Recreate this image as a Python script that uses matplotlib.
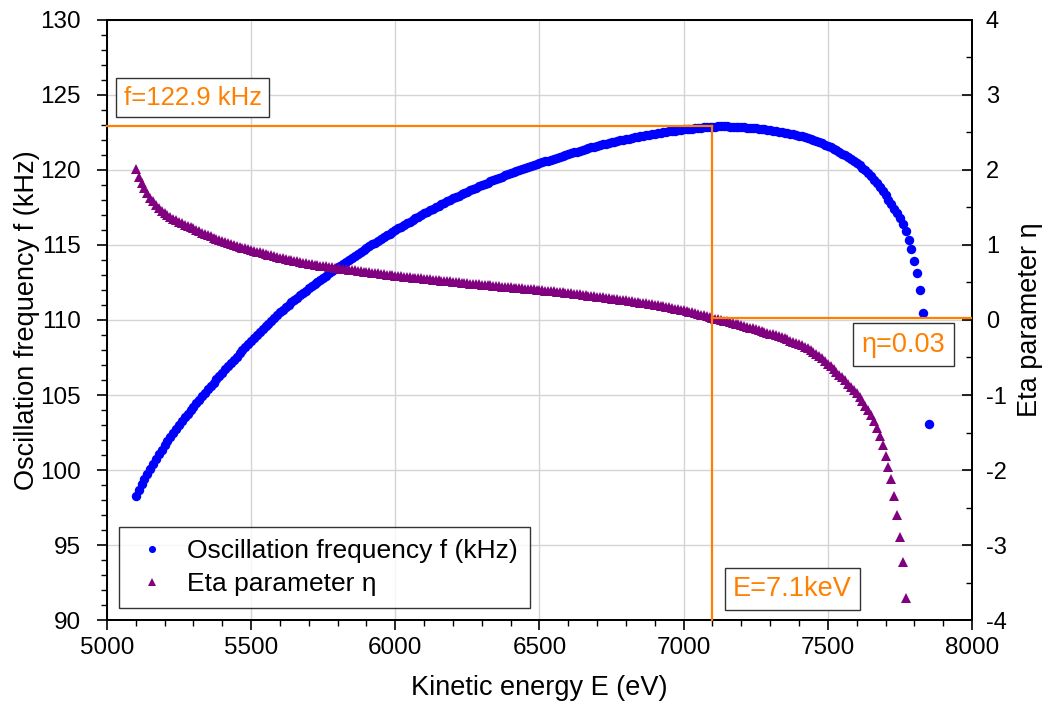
import matplotlib
matplotlib.use("Agg")
import matplotlib.pyplot as plt
from matplotlib.ticker import MultipleLocator

plt.rcParams['font.family'] = ['Liberation Sans', 'DejaVu Sans']
plt.rcParams['axes.unicode_minus'] = False

# ---------------- data ----------------
energy_ev = [
    5100, 5110, 5120, 5130, 5140, 5150, 5160, 5170, 5180, 5190,
    5200, 5210, 5220, 5230, 5240, 5250, 5260, 5270, 5280, 5290,
    5300, 5310, 5320, 5330, 5340, 5350, 5360, 5370, 5380, 5390,
    5400, 5410, 5420, 5430, 5440, 5450, 5460, 5470, 5480, 5490,
    5500, 5510, 5520, 5530, 5540, 5550, 5560, 5570, 5580, 5590,
    5600, 5610, 5620, 5630, 5640, 5650, 5660, 5670, 5680, 5690,
    5700, 5710, 5720, 5730, 5740, 5750, 5760, 5770, 5780, 5790,
    5800, 5810, 5820, 5830, 5840, 5850, 5860, 5870, 5880, 5890,
    5900, 5910, 5920, 5930, 5940, 5950, 5960, 5970, 5980, 5990,
    6000, 6010, 6020, 6030, 6040, 6050, 6060, 6070, 6080, 6090,
    6100, 6110, 6120, 6130, 6140, 6150, 6160, 6170, 6180, 6190,
    6200, 6210, 6220, 6230, 6240, 6250, 6260, 6270, 6280, 6290,
    6300, 6310, 6320, 6330, 6340, 6350, 6360, 6370, 6380, 6390,
    6400, 6410, 6420, 6430, 6440, 6450, 6460, 6470, 6480, 6490,
    6500, 6510, 6520, 6530, 6540, 6550, 6560, 6570, 6580, 6590,
    6600, 6610, 6620, 6630, 6640, 6650, 6660, 6670, 6680, 6690,
    6700, 6710, 6720, 6730, 6740, 6750, 6760, 6770, 6780, 6790,
    6800, 6810, 6820, 6830, 6840, 6850, 6860, 6870, 6880, 6890,
    6900, 6910, 6920, 6930, 6940, 6950, 6960, 6970, 6980, 6990,
    7000, 7010, 7020, 7030, 7040, 7050, 7060, 7070, 7080, 7090,
    7100, 7110, 7120, 7130, 7140, 7150, 7160, 7170, 7180, 7190,
    7200, 7210, 7220, 7230, 7240, 7250, 7260, 7270, 7280, 7290,
    7300, 7310, 7320, 7330, 7340, 7350, 7360, 7370, 7380, 7390,
    7400, 7410, 7420, 7430, 7440, 7450, 7460, 7470, 7480, 7490,
    7500, 7510, 7520, 7530, 7540, 7550, 7560, 7570, 7580, 7590,
    7600, 7610, 7620, 7630, 7640, 7650, 7660, 7670, 7680, 7690,
    7700, 7710, 7720, 7730, 7740, 7750, 7760, 7770, 7780, 7790,
    7800, 7810, 7820, 7830, 7850,
]

freq_khz = [
    98.3, 98.68, 99.05, 99.41, 99.76, 100.1, 100.43, 100.75, 101.06, 101.36,
    101.65, 101.93, 102.21, 102.48, 102.75, 103.01, 103.26, 103.51, 103.75, 103.98,
    104.21, 104.45, 104.69, 104.92, 105.15, 105.38, 105.61, 105.83, 106.05, 106.27,
    106.49, 106.71, 106.93, 107.14, 107.35, 107.56, 107.77, 107.98, 108.19, 108.39,
    108.59, 108.79, 108.99, 109.19, 109.38, 109.57, 109.76, 109.95, 110.14, 110.32,
    110.5, 110.67, 110.84, 111.01, 111.17, 111.33, 111.49, 111.65, 111.8, 111.95,
    112.1, 112.25, 112.4, 112.54, 112.68, 112.82, 112.96, 113.1, 113.24, 113.37,
    113.5, 113.63, 113.76, 113.89, 114.02, 114.15, 114.28, 114.41, 114.54, 114.67,
    114.8, 114.92, 115.04, 115.16, 115.28, 115.4, 115.52, 115.64, 115.76, 115.88,
    116.0, 116.11, 116.22, 116.33, 116.44, 116.55, 116.66, 116.77, 116.88, 116.99,
    117.1, 117.2, 117.3, 117.4, 117.5, 117.6, 117.7, 117.8, 117.9, 118.0,
    118.1, 118.19, 118.28, 118.37, 118.46, 118.55, 118.64, 118.73, 118.82, 118.91,
    119.0, 119.08, 119.16, 119.24, 119.32, 119.4, 119.48, 119.56, 119.64, 119.72,
    119.8, 119.87, 119.94, 120.01, 120.08, 120.15, 120.21, 120.27, 120.33, 120.39,
    120.45, 120.51, 120.57, 120.63, 120.69, 120.75, 120.81, 120.87, 120.93, 120.99,
    121.05, 121.11, 121.17, 121.23, 121.29, 121.35, 121.4, 121.45, 121.5, 121.55,
    121.6, 121.65, 121.7, 121.75, 121.8, 121.85, 121.89, 121.93, 121.97, 122.01,
    122.05, 122.09, 122.13, 122.17, 122.21, 122.25, 122.29, 122.33, 122.36, 122.39,
    122.42, 122.45, 122.48, 122.51, 122.54, 122.57, 122.6, 122.63, 122.66, 122.68,
    122.7, 122.72, 122.74, 122.76, 122.78, 122.8, 122.82, 122.84, 122.86, 122.87,
    122.88, 122.89, 122.9, 122.9, 122.9, 122.9, 122.89, 122.88, 122.87, 122.86,
    122.85, 122.84, 122.83, 122.81, 122.79, 122.77, 122.75, 122.73, 122.7, 122.67,
    122.64, 122.61, 122.58, 122.55, 122.52, 122.49, 122.45, 122.41, 122.37, 122.33,
    122.29, 122.24, 122.19, 122.13, 122.07, 122.0, 121.93, 121.85, 121.77, 121.69,
    121.6, 121.51, 121.41, 121.31, 121.2, 121.09, 120.97, 120.85, 120.72, 120.59,
    120.45, 120.3, 120.14, 119.97, 119.78, 119.58, 119.36, 119.12, 118.87, 118.6,
    118.3, 118.0, 117.7, 117.4, 117.1, 116.8, 116.4, 115.9, 115.33, 114.73,
    113.95, 113.13, 112.0, 110.47, 103.1,
]

eta_values = [
    2.01, 1.91, 1.83, 1.76, 1.69, 1.63, 1.58, 1.53, 1.49, 1.455,
    1.42, 1.395, 1.371, 1.349, 1.328, 1.308, 1.289, 1.271, 1.253, 1.236,
    1.22, 1.201, 1.183, 1.165, 1.148, 1.131, 1.114, 1.098, 1.082, 1.066,
    1.05, 1.038, 1.026, 1.014, 1.002, 0.99, 0.978, 0.966, 0.954, 0.942,
    0.93, 0.92, 0.91, 0.90, 0.89, 0.88, 0.87, 0.86, 0.85, 0.84,
    0.83, 0.822, 0.814, 0.806, 0.798, 0.79, 0.782, 0.774, 0.766, 0.758,
    0.75, 0.744, 0.738, 0.732, 0.726, 0.72, 0.714, 0.708, 0.702, 0.696,
    0.69, 0.685, 0.68, 0.675, 0.67, 0.665, 0.66, 0.655, 0.65, 0.645,
    0.64, 0.635, 0.63, 0.625, 0.62, 0.615, 0.61, 0.605, 0.60, 0.595,
    0.59, 0.586, 0.582, 0.578, 0.574, 0.57, 0.566, 0.562, 0.558, 0.554,
    0.55, 0.546, 0.542, 0.538, 0.534, 0.53, 0.526, 0.522, 0.518, 0.514,
    0.51, 0.506, 0.502, 0.498, 0.494, 0.49, 0.486, 0.482, 0.478, 0.474,
    0.47, 0.467, 0.463, 0.46, 0.456, 0.453, 0.449, 0.446, 0.442, 0.439,
    0.435, 0.432, 0.428, 0.425, 0.421, 0.418, 0.414, 0.411, 0.407, 0.404,
    0.40, 0.396, 0.392, 0.388, 0.384, 0.38, 0.376, 0.372, 0.368, 0.364,
    0.36, 0.355, 0.35, 0.345, 0.34, 0.335, 0.33, 0.325, 0.32, 0.315,
    0.31, 0.305, 0.30, 0.295, 0.29, 0.285, 0.28, 0.275, 0.27, 0.265,
    0.26, 0.255, 0.249, 0.244, 0.238, 0.233, 0.227, 0.222, 0.216, 0.211,
    0.205, 0.198, 0.19, 0.183, 0.175, 0.168, 0.16, 0.152, 0.145, 0.137,
    0.129, 0.12, 0.111, 0.102, 0.092, 0.082, 0.072, 0.062, 0.051, 0.04,
    0.029, 0.019, 0.01, 0.0, -0.009, -0.019, -0.028, -0.038, -0.048, -0.058,
    -0.068, -0.079, -0.09, -0.101, -0.112, -0.123, -0.134, -0.146, -0.157, -0.169,
    -0.181, -0.193, -0.205, -0.218, -0.231, -0.245, -0.259, -0.274, -0.289, -0.305,
    -0.321, -0.338, -0.357, -0.378, -0.401, -0.426, -0.453, -0.482, -0.513, -0.546,
    -0.581, -0.616, -0.652, -0.689, -0.727, -0.766, -0.806, -0.847, -0.889, -0.932,
    -0.976, -1.025, -1.08, -1.14, -1.2, -1.27, -1.35, -1.44, -1.54, -1.66,
    -1.81, -1.96, -2.12, -2.34, -2.6, -2.89, -3.22, -3.7,
]
eta_energy_ev = energy_ev[:len(eta_values)]

# operating point annotations
op_energy = 7100
op_freq = 122.9
op_eta = 0.03
label_f = "f=122.9 kHz"
label_eta = "\u03b7=0.03"
label_E = "E=7.1keV"

x_ticks = [5000, 5500, 6000, 6500, 7000, 7500, 8000]
y_left_ticks = [90, 95, 100, 105, 110, 115, 120, 125, 130]
y_right_ticks = [-4, -3, -2, -1, 0, 1, 2, 3, 4]

# ---------------- style ----------------
blue = "#0000FF"
purple = "#800080"
orange = "#FF8000"

fig = plt.figure(figsize=(10.48, 7.13), dpi=100)
ax = fig.add_axes([0.102, 0.1304, 0.9275 - 0.102, 0.972 - 0.1304])
ax2 = ax.twinx()

ax.set_xlim(5000, 8000)
ax.set_ylim(90, 130)
ax2.set_ylim(-4, 4)

ax.set_xticks(x_ticks)
ax.set_yticks(y_left_ticks)
ax2.set_yticks(y_right_ticks)
ax.xaxis.set_minor_locator(MultipleLocator(100))
ax.yaxis.set_minor_locator(MultipleLocator(1))
ax2.yaxis.set_minor_locator(MultipleLocator(0.5))

ax.grid(True, which='major', color='#d4d4d4', linewidth=1.0)
ax.set_axisbelow(True)

h1, = ax.plot(energy_ev, freq_khz, linestyle='none', marker='o',
              markersize=6.8, color=blue, markeredgewidth=0,
              label='Oscillation frequency f (kHz)', zorder=3)
h2, = ax2.plot(eta_energy_ev, eta_values, linestyle='none', marker='^',
               markersize=7.6, color=purple, markeredgewidth=0,
               label='Eta parameter \u03b7', zorder=3)

# orange guide lines (on the top axes so they sit over the data)
ax2.plot([5000, op_energy], [op_freq, op_freq], color=orange, lw=1.6,
         transform=ax.transData, zorder=4, clip_on=False)
ax2.plot([op_energy, op_energy], [90, op_freq], color=orange, lw=1.6,
         transform=ax.transData, zorder=4, clip_on=False)
ax2.plot([op_energy, 8000], [op_eta, op_eta], color=orange, lw=1.6, zorder=4)

box = dict(boxstyle='square,pad=0.3', facecolor='white', edgecolor='#333333', linewidth=1.0)
ax2.text(5297, 124.83, label_f, transform=ax.transData, color=orange,
         fontsize=18.5, ha='center', va='center', bbox=box, zorder=6)
ax2.text(7762, -0.33, label_eta, color=orange,
         fontsize=19.5, ha='center', va='center',
         bbox=dict(box, boxstyle='square,pad=0.32'), zorder=6)
ax2.text(7376, 92.07, label_E, transform=ax.transData, color=orange,
         fontsize=19.5, ha='center', va='center',
         bbox=dict(box, boxstyle='square,pad=0.3'), zorder=6)

for a in (ax, ax2):
    for s in a.spines.values():
        s.set_linewidth(1.3)
        s.set_color('black')

ax.tick_params(axis='both', which='major', direction='out', length=7, width=1.2,
               labelsize=17.5, top=False)
ax.tick_params(axis='both', which='minor', direction='out', length=4, width=1.0, top=False)
ax.tick_params(axis='x', which='major', pad=5)
ax.tick_params(axis='y', which='major', pad=12)
ax2.tick_params(axis='y', which='major', direction='in', length=7, width=1.2,
                labelsize=17, pad=10)
ax2.tick_params(axis='y', which='minor', direction='in', length=4, width=1.0)

ax.set_xlabel('Kinetic energy E (eV)', fontsize=19.5, labelpad=12)
ax.set_ylabel('Oscillation frequency f (kHz)', fontsize=19.5, labelpad=0)
ax2.set_ylabel('Eta parameter \u03b7', fontsize=19.5, labelpad=7)

leg = ax2.legend(handles=[h1, h2], loc='lower left', fontsize=19,
                 frameon=True, fancybox=False, edgecolor='black',
                 borderaxespad=0.45, handletextpad=0.55, markerscale=0.75,
                 borderpad=0.45, labelspacing=0.35, handlelength=1.6)
leg.get_frame().set_linewidth(1.0)
leg.set_zorder(10)

fig.savefig('out.png', dpi=100)
